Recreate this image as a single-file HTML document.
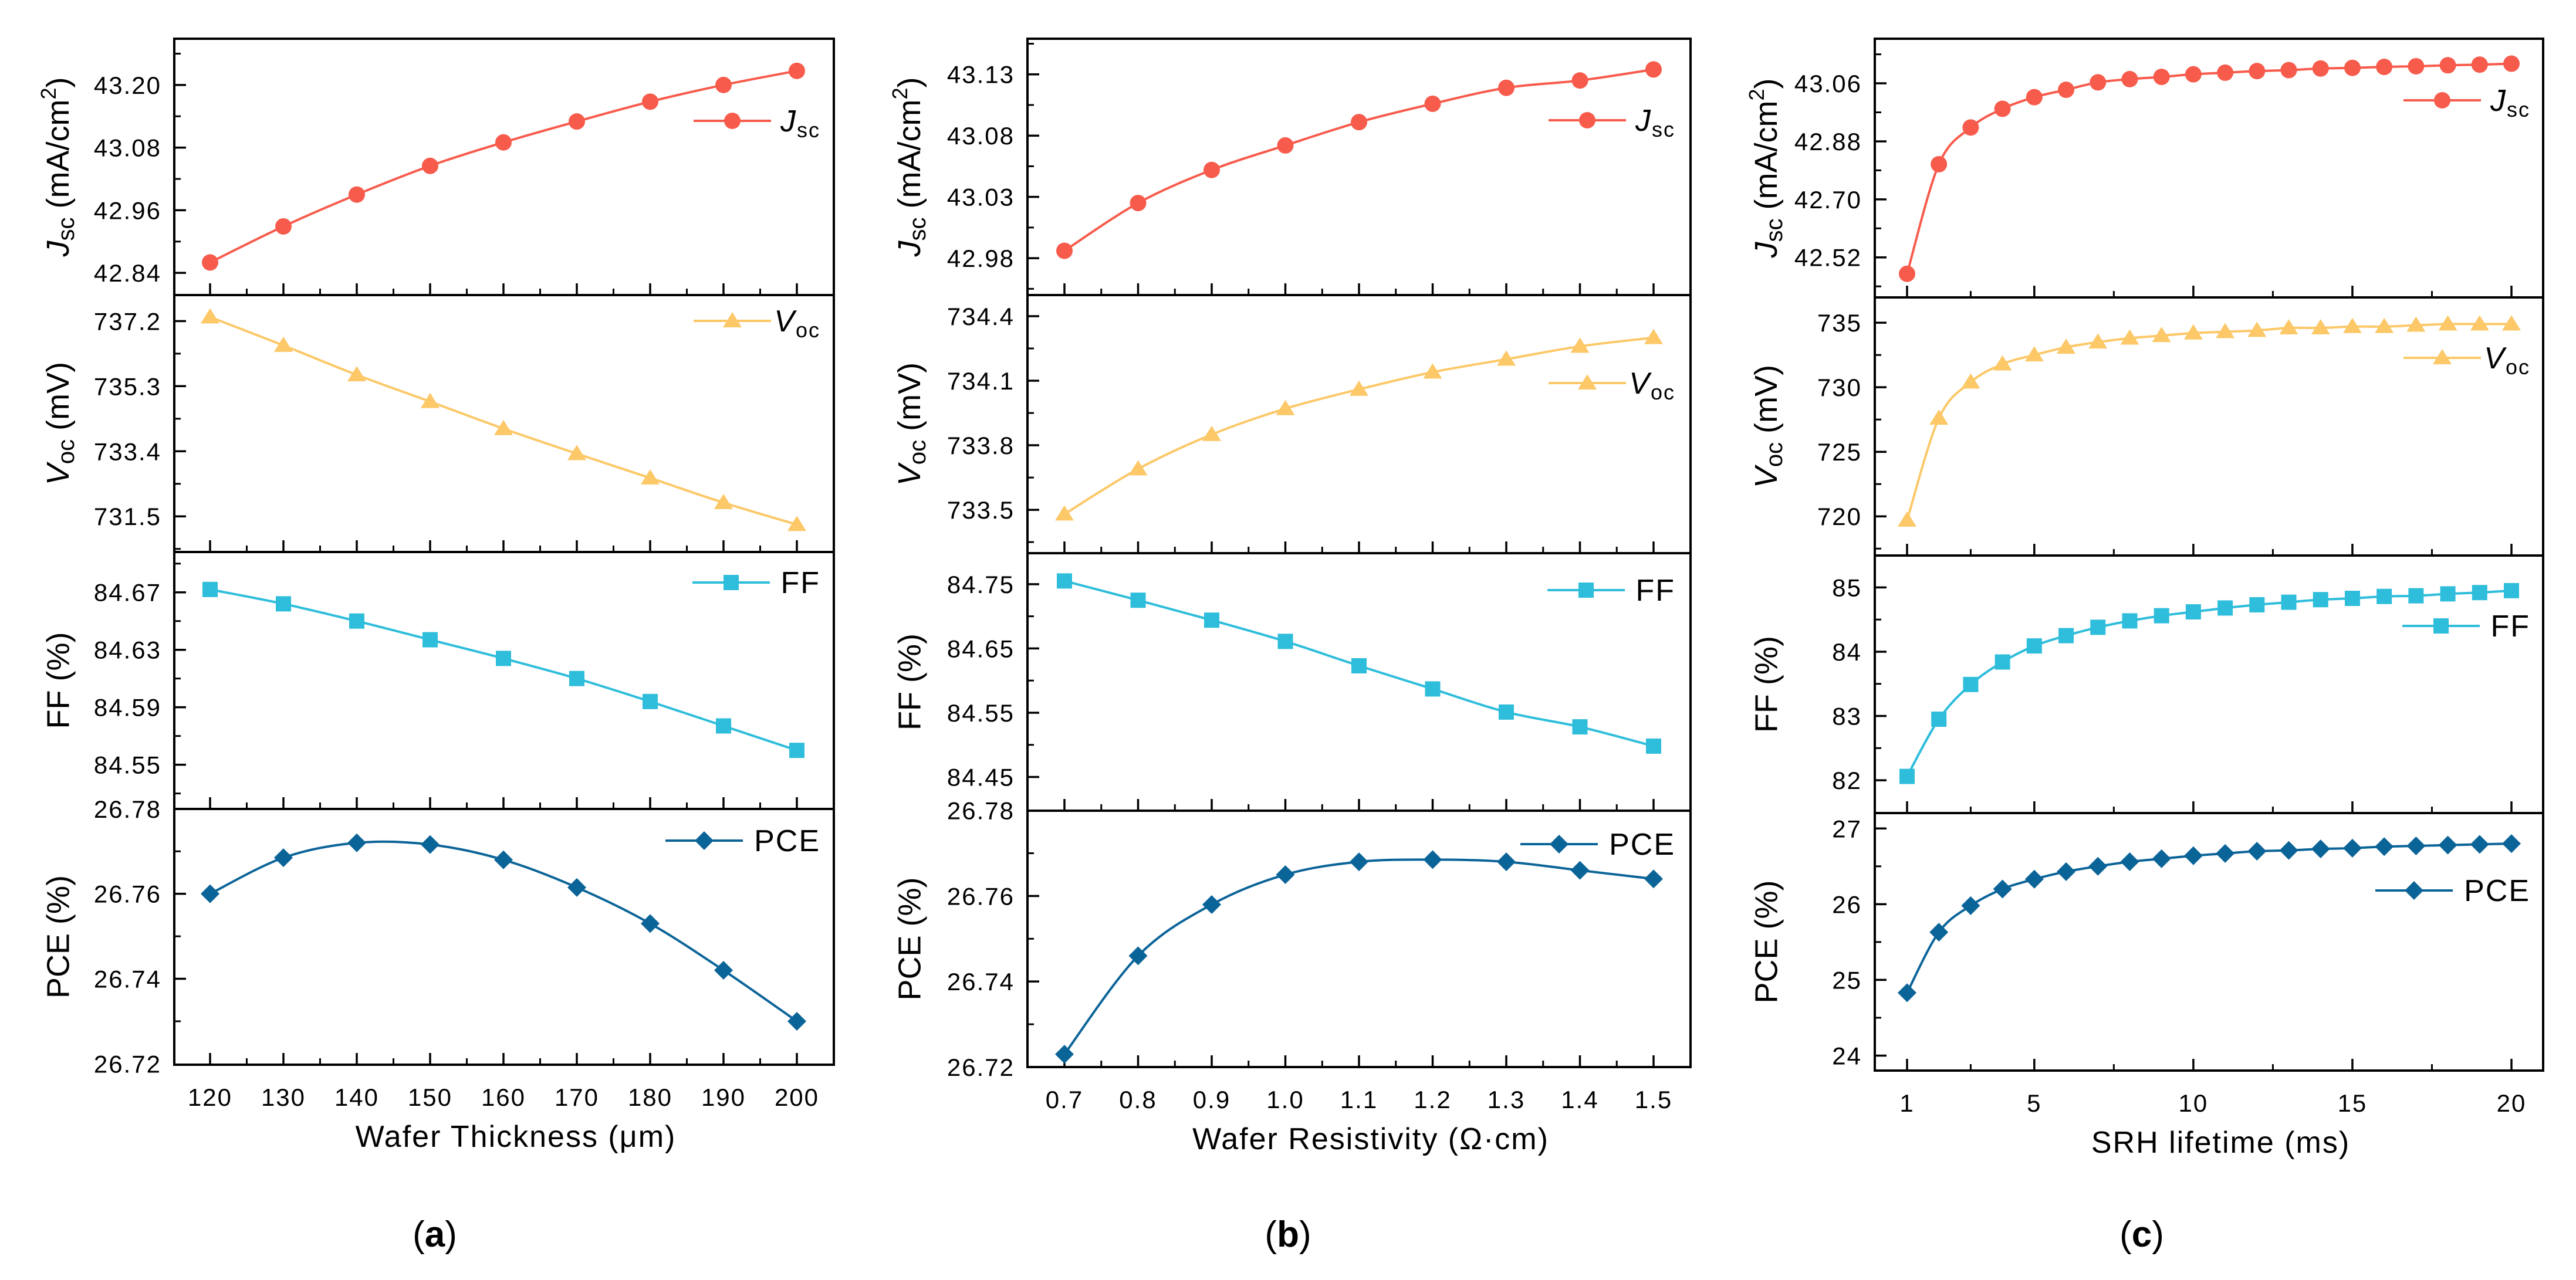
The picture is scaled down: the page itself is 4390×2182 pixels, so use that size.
<!DOCTYPE html>
<html><head><meta charset="utf-8"><style>
html,body{margin:0;padding:0;background:#fff}
svg{display:block}
text{font-family:"Liberation Sans",sans-serif;fill:#000}
</style></head><body>
<svg id="fig" width="4390" height="2182" viewBox="0 0 4390 2182" xmlns="http://www.w3.org/2000/svg"></svg>
<script>
// ---- data ----
const thicknessX = [120,130,140,150,160,170,180,190,200];
const thickJsc = [42.86,42.929,42.99,43.045,43.09,43.13,43.168,43.20,43.227];
const thickVoc = [737.32,736.49,735.63,734.85,734.06,733.33,732.62,731.9,731.26];
const thickFF = [84.672,84.662,84.650,84.637,84.624,84.610,84.594,84.577,84.560];
const thickPCE = [26.760,26.7685,26.772,26.7716,26.768,26.7615,26.753,26.742,26.730];
const thickXTicks = [120,130,140,150,160,170,180,190,200];

const resistX = [0.7,0.8,0.9,1.0,1.1,1.2,1.3,1.4,1.5];
const resJsc = [42.986,43.025,43.052,43.072,43.091,43.106,43.119,43.125,43.134];
const resVoc = [733.48,733.69,733.85,733.97,734.06,734.14,734.20,734.26,734.30];
const resFF = [84.755,84.725,84.694,84.661,84.623,84.587,84.551,84.528,84.498];
const resPCE = [26.723,26.746,26.758,26.765,26.768,26.7685,26.768,26.766,26.764];
const resXTicks = ["0.7","0.8","0.9","1.0","1.1","1.2","1.3","1.4","1.5"];

const lifeX = [1,2,3,4,5,6,7,8,9,10,11,12,13,14,15,16,17,18,19,20];
const lifeJsc = [42.469,42.809,42.923,42.981,43.017,43.040,43.063,43.073,43.080,43.088,43.093,43.098,43.101,43.106,43.108,43.111,43.113,43.116,43.118,43.121];
const lifeVoc = [719.7,727.6,730.4,731.8,732.5,733.1,733.5,733.8,734.0,734.2,734.3,734.4,734.6,734.6,734.7,734.7,734.8,734.9,734.9,734.9];
const lifeFF = [82.06,82.95,83.49,83.84,84.09,84.25,84.38,84.48,84.56,84.62,84.68,84.73,84.77,84.81,84.83,84.86,84.87,84.90,84.92,84.95];
const lifePCE = [24.83,25.63,25.98,26.20,26.33,26.43,26.50,26.56,26.60,26.64,26.67,26.70,26.71,26.73,26.74,26.76,26.77,26.78,26.79,26.80];
const lifeXTicks = [1,5,10,15,20];

const jscTicksA=["42.84","42.96","43.08","43.20"], vocTicksA=["731.5","733.4","735.3","737.2"], ffTicksA=["84.55","84.59","84.63","84.67"], pceTicksA=["26.72","26.74","26.76","26.78"];
const jscTicksB=["42.98","43.03","43.08","43.13"], vocTicksB=["733.5","733.8","734.1","734.4"], ffTicksB=["84.45","84.55","84.65","84.75"], pceTicksB=["26.72","26.74","26.76","26.78"];
const jscTicksC=["42.52","42.70","42.88","43.06"], vocTicksC=["720","725","730","735"], ffTicksC=["82","83","84","85"], pceTicksC=["24","25","26","27"];

const NS="http://www.w3.org/2000/svg";
const svg=document.getElementById('fig');
function mk(tag,attrs,parent){const e=document.createElementNS(NS,tag);for(const k in attrs)e.setAttribute(k,attrs[k]);(parent||svg).appendChild(e);return e;}
const COL={jsc:"#F75B4C",voc:"#FCC868",ff:"#2EBDDB",pce:"#0B6498"};

function smoothPath(pts){
  let d=`M${pts[0][0]},${pts[0][1]}`;
  for(let i=0;i<pts.length-1;i++){
    const p0=pts[i-1]||pts[i],p1=pts[i],p2=pts[i+1],p3=pts[i+2]||p2;
    const c1=[p1[0]+(p2[0]-p0[0])/6,p1[1]+(p2[1]-p0[1])/6];
    const c2=[p2[0]-(p3[0]-p1[0])/6,p2[1]-(p3[1]-p1[1])/6];
    d+=` C${c1[0]},${c1[1]} ${c2[0]},${c2[1]} ${p2[0]},${p2[1]}`;
  }
  return d;
}
function marker(kind,x,y,color,g){
  let e;
  if(kind==='circle') e=mk('circle',{cx:x,cy:y,r:14,fill:color},g);
  else if(kind==='tri') e=mk('polygon',{points:`${x},${y-15} ${x+16},${y+11} ${x-16},${y+11}`,fill:color},g);
  else if(kind==='square') e=mk('rect',{x:x-13,y:y-13,width:26,height:26,fill:color},g);
  else e=mk('polygon',{points:`${x},${y-16} ${x+16},${y} ${x},${y+16} ${x-16},${y}`,fill:color},g);
  
  
}

function panel(cfg){
  const {id,L,R,tops,xs,xTickVals,xTickLabels,xMin,xMax,xMinor,subs,xTitle,label,labelX,labY,titleX}=cfg;
  const g=mk('g',{});
  
  
  const xp=v=>xs[0]+(v-xMin)/(xMax-xMin)*(xs[1]-xs[0]);
  subs.forEach((s,si)=>{
    const T=tops[si],B=tops[si+1];
    const sg=mk('g',{},g);
    
    
    const tv=s.ticks.map(Number);
    const yp=v=>s.yPix[0]+(v-tv[0])/(tv[tv.length-1]-tv[0])*(s.yPix[1]-s.yPix[0]);
    const step=tv[1]-tv[0];
    for(let k=-1;k<=tv.length;k++){
      const mv=tv[0]+(k+0.5)*step; const my=yp(mv);
      if(my>T+3&&my<B-3){const t=mk('line',{x1:L,x2:L+11,y1:my,y2:my,stroke:'#000','stroke-width':3},sg);
        }
    }
    tv.forEach((v,i)=>{
      const y=yp(v);
      if(y>T+3&&y<B-3){const t=mk('line',{x1:L,x2:L+20,y1:y,y2:y,stroke:'#000','stroke-width':3.5},sg);
        }
      const tx=mk('text',{x:L-22,y:y+15,'font-size':42,'text-anchor':'end','letter-spacing':'2'},sg);
      tx.textContent=s.ticks[i];
      
    });
    xTickVals.forEach(v=>{const t=mk('line',{x1:xp(v),x2:xp(v),y1:B,y2:B-20,stroke:'#000','stroke-width':3.5},sg);
      });
    xMinor.forEach(v=>{const t=mk('line',{x1:xp(v),x2:xp(v),y1:B,y2:B-11,stroke:'#000','stroke-width':3},sg);
      });
    const pts=s.vals.map((v,i)=>[xp(s.x[i]),yp(v)]);
    const p=mk('path',{d:smoothPath(pts),fill:'none',stroke:s.color,'stroke-width':4},sg);
    
    pts.forEach(q=>marker(s.marker,q[0],q[1],s.color,sg));
    const lg=mk('g',{},sg);
    
    const tr=R-cfg.legRight;
    const txt=mk('text',{x:tr,y:s.legY+18,'font-size':52,'text-anchor':'end','letter-spacing':'2'},lg);
    if(s.sub){const a=mk('tspan',{'font-style':'italic'},txt);a.textContent=s.main;const b=mk('tspan',{'font-size':36,dy:10},txt);b.textContent=s.sub;}
    else txt.textContent=s.main;
    const tw=s.legW, lx2=tr-tw-14, lx1=lx2-132;
    mk('line',{x1:lx1,x2:lx2,y1:s.legY,y2:s.legY,stroke:s.color,'stroke-width':4},lg);
    marker(s.marker,(lx1+lx2)/2,s.legY,s.color,lg);
    const cy=(T+B)/2;
    const yt=mk('text',{x:titleX,y:cy,'font-size':54,'text-anchor':'middle',transform:`rotate(-90 ${titleX} ${cy})`,'dominant-baseline':'middle'},sg);
    if(s.sub){const a=mk('tspan',{'font-style':'italic'},yt);a.textContent=s.main;const b=mk('tspan',{'font-size':40,dy:12},yt);b.textContent=s.sub;
      const c=mk('tspan',{dy:-12},yt);c.textContent=' '+s.unit;
      if(s.sup){const d=mk('tspan',{'font-size':36,dy:-18},yt);d.textContent=s.sup;const e=mk('tspan',{dy:18},yt);e.textContent=')';}}
    else yt.textContent=s.main+' '+s.unit;
    
    const f=mk('rect',{x:L,y:T,width:R-L,height:B-T,fill:'none',stroke:'#000','stroke-width':4},sg);
    
  });
  const Bot=tops[tops.length-1];
  xTickVals.forEach((v,i)=>{const t=mk('text',{x:xp(v),y:Bot+70,'font-size':42,'text-anchor':'middle','letter-spacing':'2'},g);
    t.textContent=xTickLabels[i];});
  const xt=mk('text',{x:(L+R)/2+20,y:Bot+140,'font-size':52,'text-anchor':'middle','letter-spacing':'2'},g);
  xt.textContent=xTitle;
  const pl=mk('text',{x:labelX,y:labY,'font-size':62,'text-anchor':'middle','font-family':'Liberation Serif, serif'},g);
  pl.textContent='(';const pb=mk('tspan',{'font-weight':'bold'},pl);pb.textContent=label;const pe=mk('tspan',{},pl);pe.textContent=')';
  
}
const Z=0.718;
const zy=v=>v/Z;
function subs(ticks,yp,vals,x,legYs,legW){
  const keys=['jsc','voc','ff','pce'];
  const meta={jsc:{main:'J',sub:'sc',unit:'(mA/cm',sup:'2',marker:'circle'},voc:{main:'V',sub:'oc',unit:'(mV)',marker:'tri'},ff:{main:'FF',unit:'(%)',marker:'square'},pce:{main:'PCE',unit:'(%)',marker:'diamond'}};
  return keys.map((k,i)=>Object.assign({key:k,ticks:ticks[i],yPix:yp[i].map(zy),vals:vals[i],x:x,color:COL[k],legY:legYs[i],legW:legW[i]},meta[k]));
}
const lw=[70,70,72,118];
panel({id:'a',L:297,R:1421,tops:[66,503,941,1379,1815],xs:[358,1358],xMin:120,xMax:200,
  xTickVals:thicknessX,xTickLabels:thickXTicks.map(String),xMinor:[125,135,145,155,165,175,185,195],
  subs:subs([jscTicksA,vocTicksA,ffTicksA,pceTicksA],[[334,104],[632,393],[936,725],[1302,990]],[thickJsc,thickVoc,thickFF,thickPCE],thicknessX,[206,547,993,1433],lw),
  xTitle:'Wafer Thickness (μm)',label:'a',labelX:741,labY:2125,titleX:103,legRight:23});
panel({id:'b',L:1751,R:2881,tops:[66,503,943,1382,1819],xs:[1814,2818],xMin:0.7,xMax:1.5,
  xTickVals:resistX,xTickLabels:resXTicks,xMinor:[0.75,0.85,0.95,1.05,1.15,1.25,1.35,1.45],
  subs:subs([jscTicksB,vocTicksB,ffTicksB,pceTicksB],[[316,91],[624,387],[951,715],[1306,992]],[resJsc,resVoc,resFF,resPCE],resistX,[205,653,1006,1439],lw),
  xTitle:'Wafer Resistivity (Ω·cm)',label:'b',labelX:2195,labY:2125,titleX:1554,legRight:26});
panel({id:'c',L:3195,R:4334,tops:[66,507,947,1386,1825],xs:[3250,4280],xMin:1,xMax:20,
  xTickVals:lifeXTicks,xTickLabels:lifeXTicks.map(String),xMinor:[3,7.5,12.5,17.5],
  subs:subs([jscTicksC,vocTicksC,ffTicksC,pceTicksC],[[315,102],[632,395],[955,719],[1292,1014]],[lifeJsc,lifeVoc,lifeFF,lifePCE],lifeX,[171,610,1067,1518],lw),
  xTitle:'SRH lifetime (ms)',label:'c',labelX:3650,labY:2125,titleX:3014,legRight:22});
</script>
</body></html>
